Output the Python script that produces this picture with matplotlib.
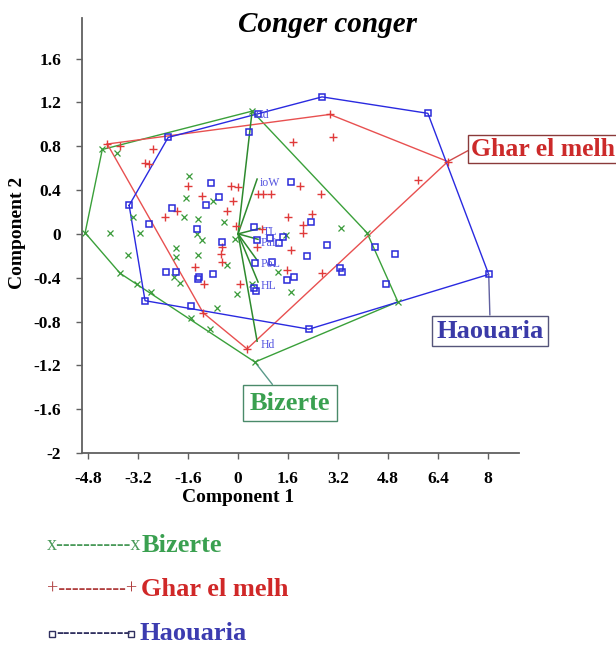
import matplotlib
matplotlib.use("Agg")
import matplotlib.pyplot as plt
from matplotlib.lines import Line2D

# ---------------- data ----------------
title = "Conger conger"
xlabel = "Component 1"
ylabel = "Component 2"
groups = ["Bizerte", "Ghar el melh", "Haouaria"]

bizerte_x = [-4.90, -4.35, 0.45, 4.13, 5.12, 0.54, -3.78, -3.87, -4.10, -3.14, -3.36, -3.52,
             -1.57, -1.66, -0.80, -1.73, -1.28, -0.45, -1.31, -1.15, -0.10, -1.98, -1.98,
             -1.28, -0.35, -2.05, -1.86, -3.23, -2.78, 0.45, -0.03, -0.67, -1.50, -0.90,
             1.54, 3.30, 1.28, 1.70]
bizerte_y = [0.01, 0.77, 1.12, 0.01, -0.62, -1.17, -0.36, 0.74, 0.01, 0.01, 0.15, -0.19,
             0.53, 0.33, 0.30, 0.15, 0.14, 0.11, 0.00, -0.06, -0.05, -0.13, -0.21,
             -0.19, -0.28, -0.39, -0.45, -0.46, -0.53, -0.46, -0.55, -0.68, -0.77, -0.87,
             -0.01, 0.05, -0.35, -0.53]

ghar_x = [-4.19, 2.94, 6.72, 0.29, -1.12, -3.78, -2.72, -2.98, -2.85, -1.60, -0.22, 0.00,
          -1.15, -0.16, -0.35, -2.34, -1.95, -0.06, -0.51, -0.54, -0.51, -1.38, -1.09,
          0.06, 0.64, 0.80, 1.06, 1.76, 3.04, 1.98, 2.66, 5.76, 2.37, 1.60, 2.08, 2.08,
          0.77, 0.61, 1.70, 1.57, 2.69]
ghar_y = [0.82, 1.09, 0.66, -1.05, -0.72, 0.80, 0.77, 0.65, 0.64, 0.44, 0.44, 0.43,
          0.35, 0.30, 0.21, 0.15, 0.21, 0.07, -0.12, -0.18, -0.26, -0.30, -0.46,
          -0.46, 0.36, 0.36, 0.36, 0.84, 0.88, 0.44, 0.36, 0.49, 0.18, 0.15, 0.08, 0.01,
          0.04, -0.12, -0.15, -0.33, -0.36]

haouaria_x = [-2.24, 2.69, 6.08, 8.03, 2.27, -2.98, -3.49, 0.35, 0.64, -0.86, -0.61, -1.02,
              -2.11, -2.85, -1.31, -0.51, 0.51, 0.61, -2.30, -1.98, -1.25, -1.28, -0.80,
              0.54, 0.51, 0.58, -1.50, 1.70, 2.34, 1.02, 1.44, 1.31, 1.09, 1.79, 1.57,
              2.85, 2.21, 4.38, 5.02, 3.26, 3.33, 4.74]
haouaria_y = [0.88, 1.25, 1.10, -0.37, -0.87, -0.61, 0.26, 0.93, 1.09, 0.46, 0.34, 0.26,
              0.24, 0.09, 0.04, -0.07, 0.06, -0.06, -0.35, -0.35, -0.39, -0.41, -0.37,
              -0.27, -0.49, -0.52, -0.66, 0.47, 0.11, -0.04, -0.03, -0.08, -0.26, -0.39, -0.42,
              -0.10, -0.20, -0.12, -0.18, -0.31, -0.35, -0.46]

loading_names = ["Cd", "ioW", "TL", "PaL", "PoL", "HL", "Hd"]
loading_x = [0.45, 0.61, 0.70, 0.64, 0.61, 0.64, 0.61]
loading_y = [1.12, 0.50, 0.05, -0.05, -0.24, -0.44, -0.98]

xticks = [-4.8, -3.2, -1.6, 0, 1.6, 3.2, 4.8, 6.4, 8]
xticklabels = ["-4.8", "-3.2", "-1.6", "0", "1.6", "3.2", "4.8", "6.4", "8"]
yticks = [-2, -1.6, -1.2, -0.8, -0.4, 0, 0.4, 0.8, 1.2, 1.6]
yticklabels = ["-2", "-1.6", "-1.2", "-0.8", "-0.4", "0", "0.4", "0.8", "1.2", "1.6"]

# ---------------- helpers ----------------
def convex_hull(xs, ys):
    pts = sorted(set(zip(xs, ys)))
    def cross(o, a, b):
        return (a[0]-o[0])*(b[1]-o[1]) - (a[1]-o[1])*(b[0]-o[0])
    lower = []
    for p in pts:
        while len(lower) >= 2 and cross(lower[-2], lower[-1], p) <= 0:
            lower.pop()
        lower.append(p)
    upper = []
    for p in reversed(pts):
        while len(upper) >= 2 and cross(upper[-2], upper[-1], p) <= 0:
            upper.pop()
        upper.append(p)
    h = lower[:-1] + upper[:-1]
    h.append(h[0])
    return [p[0] for p in h], [p[1] for p in h]

SERIF = ["Liberation Serif", "DejaVu Serif"]
plt.rcParams["font.family"] = SERIF

W, H = 616, 645
fig = plt.figure(figsize=(W/100, H/100), dpi=100)
ax = fig.add_axes([82/W, 1 - 453/H, 437/W, (453-18)/H])
ax.set_xlim(-5, 9)
ax.set_ylim(-2, 1.97)

col_g, col_r, col_b = "#3a9a3a", "#e03a3a", "#2a2ad8"
hull_g, hull_r, hull_b = "#3aa03a", "#e85050", "#2a2ae0"

# hulls
for xs, ys, c in [(bizerte_x, bizerte_y, hull_g), (ghar_x, ghar_y, hull_r),
                  (haouaria_x, haouaria_y, hull_b)]:
    hx, hy = convex_hull(xs, ys)
    ax.plot(hx, hy, color=c, lw=1.0, zorder=2)

# loadings
for n, lx, ly in zip(loading_names, loading_x, loading_y):
    ax.plot([0, lx], [0, ly], color="#2e8a2e", lw=1.1, zorder=3)
    ax.annotate(n, (lx, ly), xytext=(3, -4), textcoords="offset pixels",
                ha="left", va="center", fontsize=8.5, color="#5555e0", zorder=5)

# points
ax.plot(bizerte_x, bizerte_y, ls="none", marker="x", ms=4.5, mew=0.9, color=col_g, zorder=4)
ax.plot(ghar_x, ghar_y, ls="none", marker="+", ms=5.5, mew=1.0, color=col_r, zorder=4)
ax.plot(haouaria_x, haouaria_y, ls="none", marker="s", ms=4.2, mew=1.1, mfc="none",
        color=col_b, zorder=4)

# axes style
for s in ["top", "right"]:
    ax.spines[s].set_visible(False)
for s in ["left", "bottom"]:
    ax.spines[s].set_color("#606060")
    ax.spines[s].set_linewidth(1.3)
ax.set_xticks(xticks)
ax.set_xticklabels(xticklabels)
ax.set_yticks(yticks)
ax.set_yticklabels(yticklabels)
ax.tick_params(axis="both", direction="out", length=4, width=1, color="#606060",
               labelsize=12.5)
ax.tick_params(axis="x", pad=9)
ax.tick_params(axis="y", pad=11)
for lab in ax.get_xticklabels() + ax.get_yticklabels():
    lab.set_fontweight("bold")

fig.text(328/W, 1 - 25/H, title, ha="center", va="center", fontsize=21,
         fontweight="bold", fontstyle="italic", color="black")
fig.text(238/W, 1 - 497/H, xlabel, ha="center", va="center", fontsize=14,
         fontweight="bold")
fig.text(18/W, 1 - 233/H, ylabel, ha="center", va="center", fontsize=14,
         fontweight="bold", rotation=90)

# group labels with boxes
ax.annotate(groups[1], (ghar_x[2], ghar_y[2]), xytext=(471, H - 149),
            textcoords="figure pixels", ha="left", va="center", fontsize=18.5,
            fontweight="bold", color="#cc2a2a", annotation_clip=False,
            bbox=dict(boxstyle="square,pad=0.1", fc="white", ec="#8a3a3a", lw=1.0),
            arrowprops=dict(arrowstyle="-", color="#d04a4a", lw=1.0, relpos=(0, 0.5),
                            shrinkA=0, shrinkB=0))
ax.annotate(groups[2], (haouaria_x[3], haouaria_y[3]), xytext=(490, H - 331),
            textcoords="figure pixels", ha="center", va="center", fontsize=19,
            fontweight="bold", color="#3a3aa8", annotation_clip=False,
            bbox=dict(boxstyle="square,pad=0.15", fc="white", ec="#55557a", lw=1.0),
            arrowprops=dict(arrowstyle="-", color="#6060a0", lw=1.0, relpos=(0.5, 1),
                            shrinkA=0, shrinkB=0))
ax.annotate(groups[0], (bizerte_x[5], bizerte_y[5]), xytext=(290, H - 403),
            textcoords="figure pixels", ha="center", va="center", fontsize=19,
            fontweight="bold", color="#3aa050", annotation_clip=False,
            bbox=dict(boxstyle="square,pad=0.25", fc="white", ec="#4a8a6a", lw=1.0),
            arrowprops=dict(arrowstyle="-", color="#5a9a8a", lw=1.0, relpos=(0.35, 1),
                            shrinkA=0, shrinkB=0))

# custom legend
fig.text(47/W, 1 - 546/H, "x" + "-"*11 + "x", ha="left", va="center", fontsize=14.5,
         color="#4a9a5a")
fig.text(142/W, 1 - 546/H, groups[0], ha="left", va="center", fontsize=19,
         fontweight="bold", color="#3aa050")
fig.text(47/W, 1 - 590/H, "+" + "-"*10 + "+", ha="left", va="center", fontsize=14.5,
         color="#b04040")
fig.text(141/W, 1 - 590/H, groups[1], ha="left", va="center", fontsize=19,
         fontweight="bold", color="#d02828")
fig.text(56/W, 1 - 634/H, "-"*11, ha="left", va="center", fontsize=14.5,
         color="#303060")
for px in (52.5, 130.5):
    fig.add_artist(Line2D([px/W], [1 - 634/H], transform=fig.transFigure, marker="s",
                          ms=4.2, mfc="none", mec="#303060", mew=1.0, ls="none"))
fig.text(140/W, 1 - 634/H, groups[2], ha="left", va="center", fontsize=19,
         fontweight="bold", color="#3c3cb0")

fig.savefig("out.png", dpi=100)
